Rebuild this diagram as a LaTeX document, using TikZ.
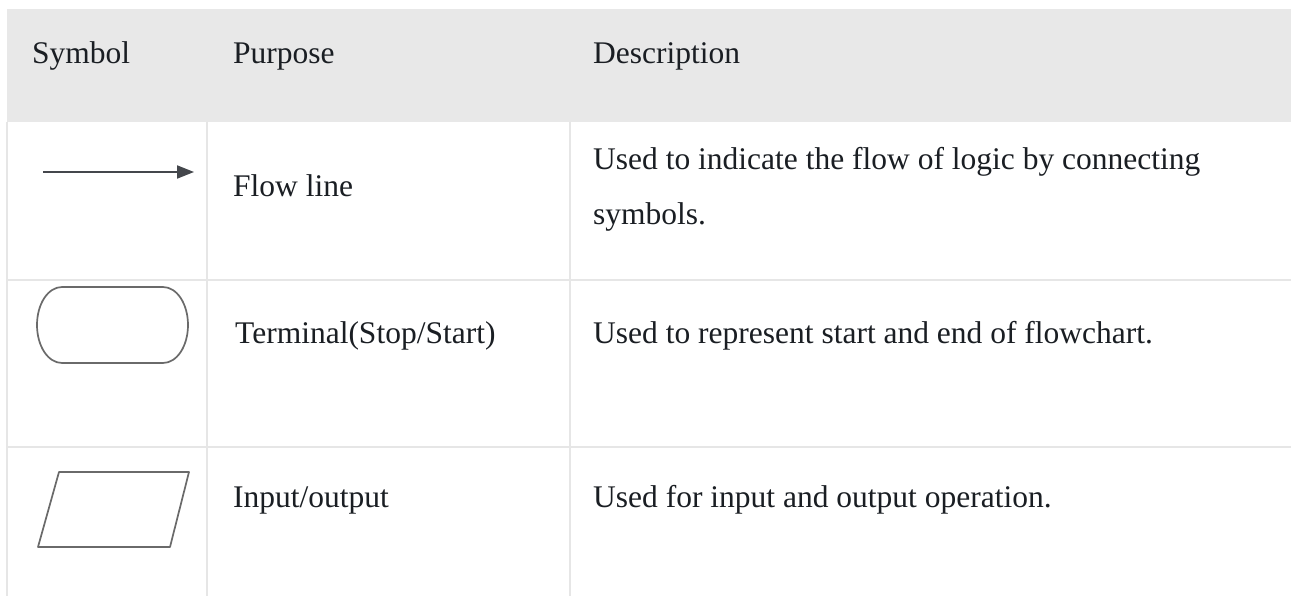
\documentclass[tikz,border=0pt]{standalone}
\usepackage{fontspec}
\setmainfont{Liberation Serif}
\usetikzlibrary{arrows.meta}
\definecolor{headbg}{HTML}{E8E8E8}
\definecolor{gridc}{HTML}{E6E6E6}
\definecolor{txt}{HTML}{1A1E23}
\definecolor{symc}{HTML}{6A6A6A}
\definecolor{arrc}{HTML}{44474C}
\begin{document}
\begin{tikzpicture}[x=1pt,y=-1pt,
  cell/.style={anchor=base west,inner sep=0pt,text=txt,font=\fontsize{31.5}{54}\selectfont},
  gridline/.style={draw=gridc,line width=2pt},
  symline/.style={draw=symc,line width=1.7pt,line join=round},
  flowarrow/.style={draw=arrc,line width=1.8pt,-{Triangle[length=17pt,width=13pt]}}]
\useasboundingbox (0,0) rectangle (1291,596);
\fill[white] (0,0) rectangle (1291,596);
% header band
\fill[headbg] (7,9) rectangle (1291,122);
% grid lines
\draw[gridline] (7,122) -- (7,596);
\draw[gridline] (207,122) -- (207,596);
\draw[gridline] (570,122) -- (570,596);
\draw[gridline] (7,280) -- (1291,280);
\draw[gridline] (7,447) -- (1291,447);
% header texts
\node[cell] (hsym) at (32,64) {Symbol};
\node[cell] (hpur) at (233,64) {Purpose};
\node[cell] (hdes) at (593,64) {Description};
% row 1
\coordinate (fa) at (43,172);
\coordinate (fb) at (194,172);
\draw[flowarrow] (fa) -- (fb);
\node[cell] (p1) at (233,197) {Flow line};
\node[cell] (d1a) at (593,170) {Used to indicate the flow of logic by connecting};
\node[cell] (d1b) at (593,225) {symbols.};
% row 2
\draw[symline] (62,287) -- (163,287) .. controls (177,287) and (188,304) .. (188,325)
  .. controls (188,346) and (177,363) .. (163,363) -- (62,363)
  .. controls (48,363) and (37,346) .. (37,325)
  .. controls (37,304) and (48,287) .. (62,287) -- cycle;
\node[cell] (p2) at (235,343) {Terminal(Stop/Start)};
\node[cell] (d2) at (593,343) {Used to represent start and end of flowchart.};
% row 3
\draw[symline] (59,472) -- (189,472) -- (170,547) -- (38,547) -- cycle;
\node[cell] (p3) at (233,507) {Input/output};
\node[cell] (d3) at (593,507) {Used for input and output operation.};
\end{tikzpicture}
\end{document}
